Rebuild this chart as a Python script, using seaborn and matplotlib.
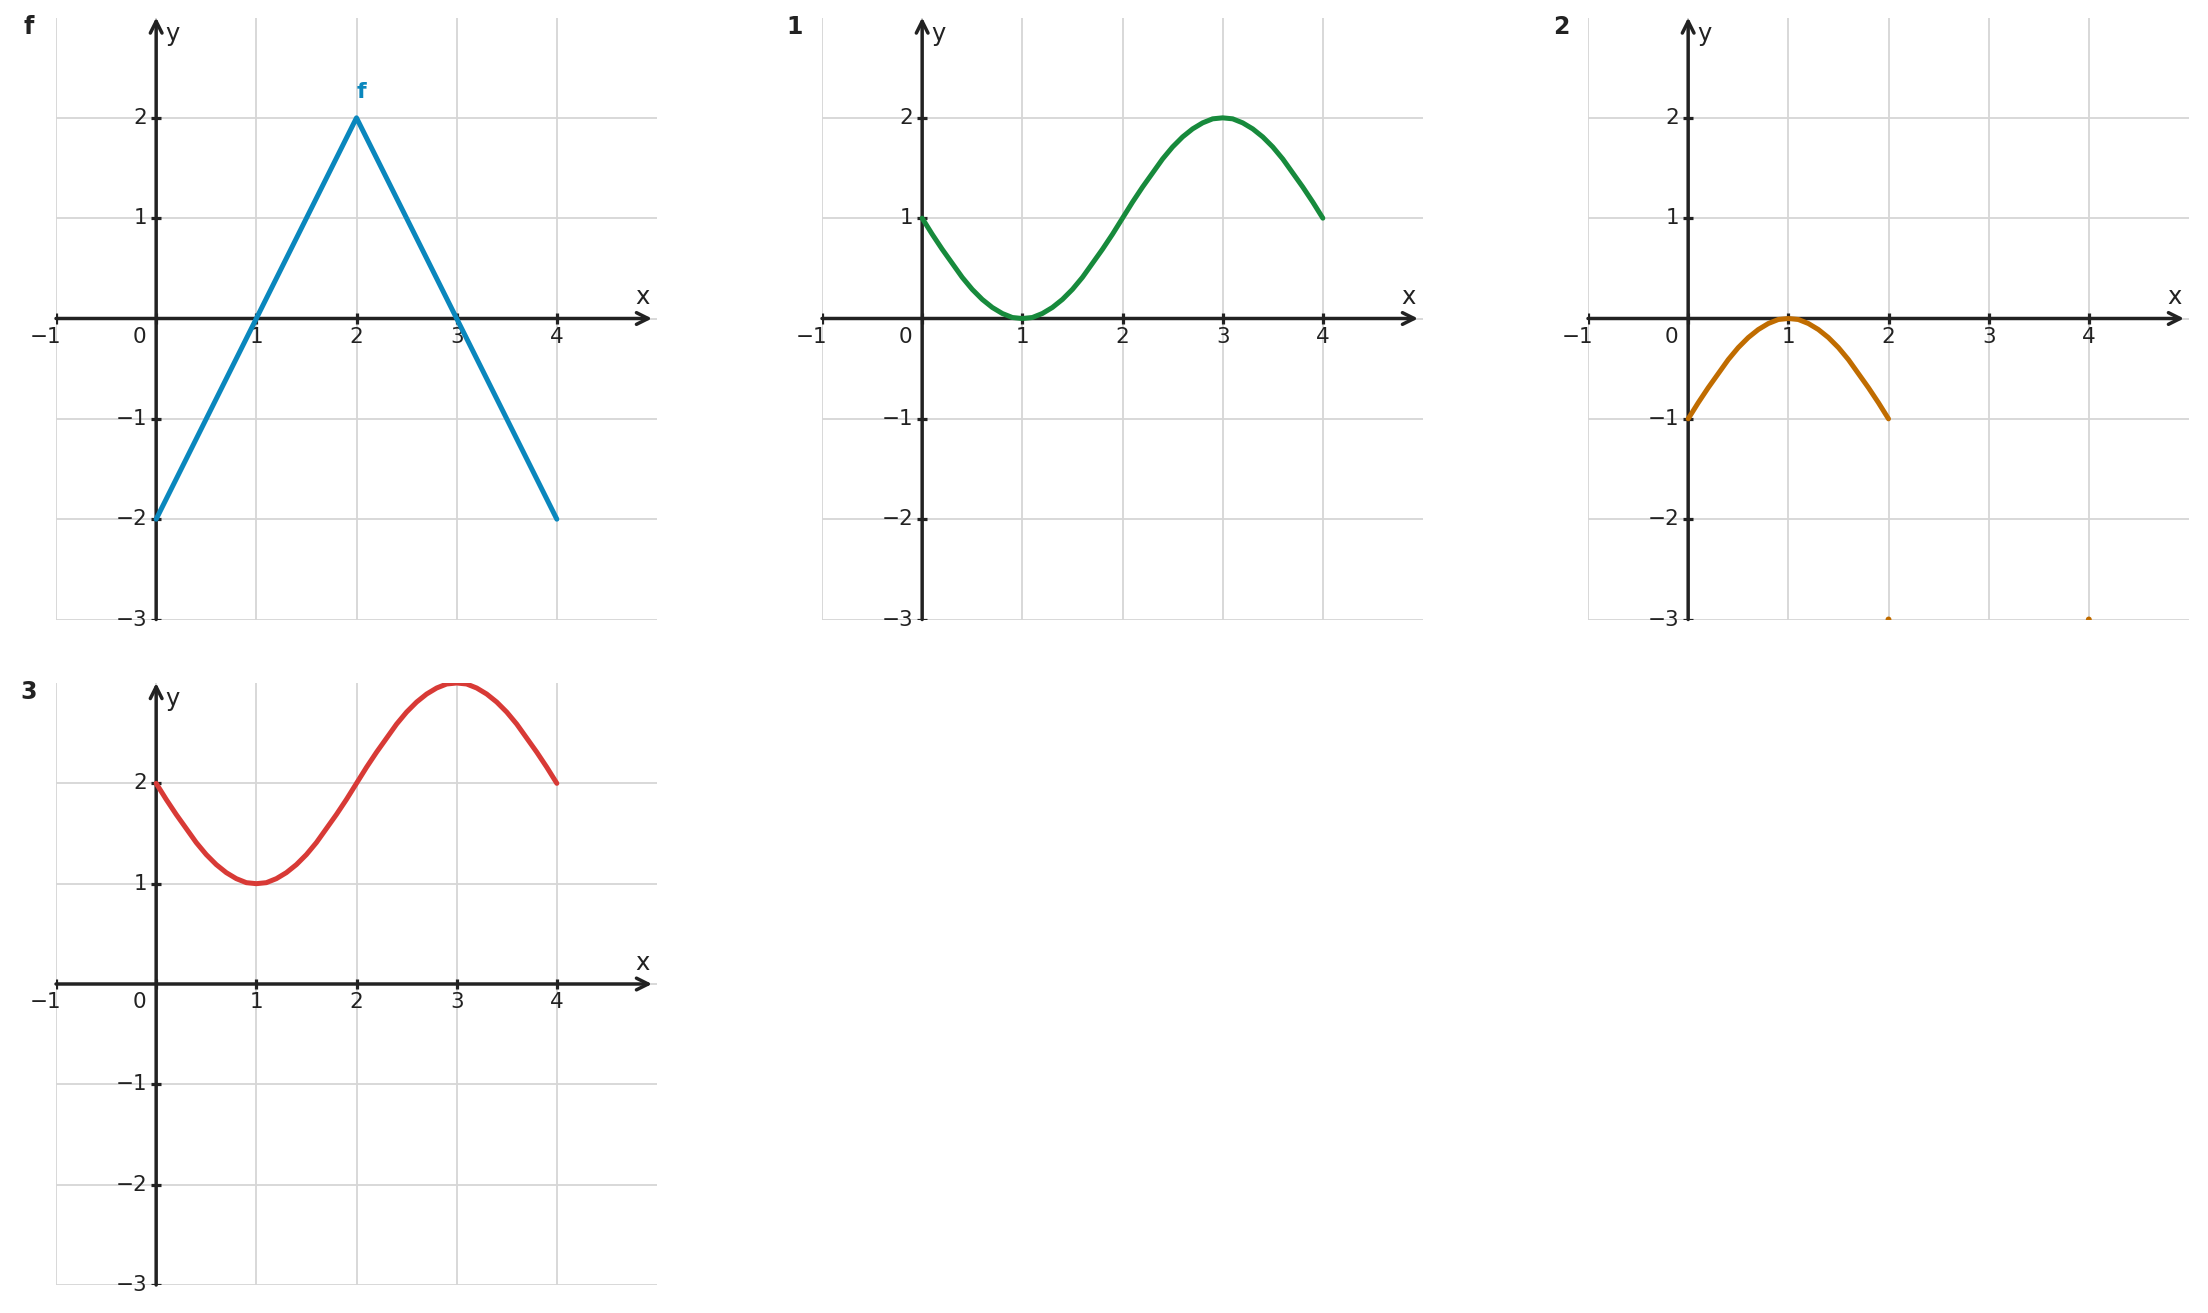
import numpy as np
import pandas as pd
import matplotlib
matplotlib.use("Agg")
import matplotlib.pyplot as plt
import seaborn as sns

# ---------------- data ----------------
panel_names = ["f", "1", "2", "3"]
series_colors = ["#0a87bd", "#178a3c", "#c06c00", "#d83a36"]

f_x = [0, 2, 4]
f_y = [-2, 2, -2]

x_fine = [round(0.1 * i, 1) for i in range(41)]
g1_y = [1.00, 0.84, 0.69, 0.55, 0.41, 0.29, 0.19, 0.11, 0.05, 0.01, 0.00,
        0.01, 0.05, 0.11, 0.19, 0.29, 0.41, 0.55, 0.69, 0.84, 1.00,
        1.16, 1.31, 1.45, 1.59, 1.71, 1.81, 1.89, 1.95, 1.99, 2.00,
        1.99, 1.95, 1.89, 1.81, 1.71, 1.59, 1.45, 1.31, 1.16, 1.00]

g2_x = [round(0.1 * i, 1) for i in range(21)]
g2_y = [-1.00, -0.84, -0.69, -0.55, -0.41, -0.29, -0.19, -0.11, -0.05, -0.01, 0.00,
        -0.01, -0.05, -0.11, -0.19, -0.29, -0.41, -0.55, -0.69, -0.84, -1.00]
g2_dots_x = [2, 4]
g2_dots_y = [-3, -3]

g3_y = [2.00, 1.84, 1.69, 1.55, 1.41, 1.29, 1.19, 1.11, 1.05, 1.01, 1.00,
        1.01, 1.05, 1.11, 1.19, 1.29, 1.41, 1.55, 1.69, 1.84, 2.00,
        2.16, 2.31, 2.45, 2.59, 2.71, 2.81, 2.89, 2.95, 2.99, 3.00,
        2.99, 2.95, 2.89, 2.81, 2.71, 2.59, 2.45, 2.31, 2.16, 2.00]

x_ticks = [-1, 0, 1, 2, 3, 4]
y_ticks = [-3, -2, -1, 0, 1, 2]
x_tick_labels = ["\u22121", "0", "1", "2", "3", "4"]
y_tick_labels = ["\u22123", "\u22122", "\u22121", "0", "1", "2"]

# ---------------- style ----------------
sns.set_theme(style="whitegrid", rc={"grid.color": "#d6d6d6", "grid.linewidth": 1.3})
plt.rcParams["font.family"] = ["DejaVu Sans"]

AX = "#222222"
fig = plt.figure(figsize=(22.08, 13.13), dpi=100)

W = 601 / 2208
H = 602 / 1313
lefts = [56 / 2208, 822 / 2208, 1588 / 2208]
bottoms = [1 - 619.5 / 1313, 1 - 1285 / 1313]
positions = [(lefts[0], bottoms[0]), (lefts[1], bottoms[0]),
             (lefts[2], bottoms[0]), (lefts[0], bottoms[1])]

data = [
    pd.DataFrame({"x": f_x, "y": f_y}),
    pd.DataFrame({"x": x_fine, "y": g1_y}),
    pd.DataFrame({"x": g2_x, "y": g2_y}),
    pd.DataFrame({"x": x_fine, "y": g3_y}),
]


def setup(ax):
    ax.set_xlim(-1, 5)
    ax.set_ylim(-3, 3)
    ax.set_xticks(x_ticks)
    ax.set_yticks(y_ticks)
    ax.tick_params(length=0, labelbottom=False, labelleft=False)
    for s in ax.spines.values():
        s.set_visible(False)
    ax.set_xlabel("")
    ax.set_ylabel("")
    ax.set_axisbelow(True)
    ax.annotate("", xy=(4.95, 0), xytext=(-1, 0),
                arrowprops=dict(arrowstyle="->,head_length=0.7,head_width=0.35",
                                lw=2.5, color=AX, shrinkA=0, shrinkB=0), zorder=3)
    ax.annotate("", xy=(0, 3), xytext=(0, -3),
                arrowprops=dict(arrowstyle="->,head_length=0.7,head_width=0.35",
                                lw=2.5, color=AX, shrinkA=0, shrinkB=0), zorder=3)
    ax.vlines(x_ticks, -0.05, 0.05, color=AX, lw=2.3, zorder=3)
    ax.hlines([v for v in y_ticks if v != 0], -0.05, 0.05, color=AX, lw=2.3, zorder=3)
    for v, lab in zip(x_ticks, x_tick_labels):
        if v == 0:
            continue
        xo = v - 0.1 if v < 0 else v
        ax.text(xo, -0.18, lab, ha="center", va="center", fontsize=15.5, color=AX)
    ax.text(-0.17, -0.18, "0", ha="center", va="center", fontsize=15.5, color=AX)
    for v, lab in zip(y_ticks, y_tick_labels):
        if v == 0:
            continue
        ax.text(-0.09, v, lab, ha="right", va="center", fontsize=15.5, color=AX)
    ax.text(4.86, 0.21, "x", ha="center", va="center", fontsize=17.5, color=AX)
    ax.text(0.16, 2.84, "y", ha="center", va="center", fontsize=17.5, color=AX)


for i, (name, col, df, pos) in enumerate(zip(panel_names, series_colors, data, positions)):
    ax = fig.add_axes([pos[0], pos[1], W, H])
    setup(ax)
    sns.lineplot(data=df, x="x", y="y", ax=ax, color=col, lw=3.6, sort=False,
                 estimator=None, zorder=4)
    ax.lines[-1].set_solid_capstyle("round")
    ax.lines[-1].set_solid_joinstyle("round")
    ax.set_xlabel("")
    ax.set_ylabel("")
    ax.set_xlim(-1, 5)
    ax.set_ylim(-3, 3)
    if i == 2:
        sns.scatterplot(x=g2_dots_x, y=g2_dots_y, ax=ax, color=col, s=18,
                        edgecolor="none", zorder=4)
    if i == 0:
        ax.text(2.05, 2.26, "f", ha="center", va="center", fontsize=16,
                fontweight="bold", color=col)
    ax.text(-0.045, 0.985, name, transform=ax.transAxes, ha="center", va="center",
            fontsize=17, fontweight="bold", color=AX)

fig.savefig("out.png", dpi=100)
